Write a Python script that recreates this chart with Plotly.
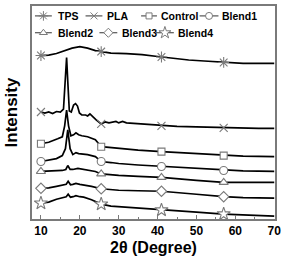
import numpy as np
import plotly.graph_objects as go

# ---------------- data (2θ in degrees, intensity in arbitrary units, stacked) ----------------
series_names = ["TPS", "PLA", "Control", "Blend1", "Blend2", "Blend3", "Blend4"]

tps_x = [10, 12, 14, 16, 18, 20, 22, 24, 25.5, 28, 32, 36, 40, 44, 48, 52, 57, 62, 66, 70]
tps_y = [166, 166.5, 168, 170.5, 173.5, 175, 173.5, 171, 170, 168.5, 168, 167, 165, 163, 161.5, 160.5, 159, 158, 158, 158]

pla_x = [10, 11, 12, 13, 14, 15, 15.8, 16.3, 16.6, 16.9, 17.3, 17.8, 18.4, 18.9, 19.4, 19.9, 20.5, 21.5, 22.0,
         22.6, 23.3, 24.2, 25.5, 26.5, 27.5, 28.4, 29.3, 30.0, 31.0, 32.0, 34, 36, 38, 41, 45, 50, 55, 57, 62, 66, 70]
pla_y = [109, 108, 109, 107.5, 109.5, 109, 112, 140, 164, 140, 110, 109, 116, 117.5, 115, 108, 106, 106, 105,
         107, 104, 101, 97, 99, 98, 98.5, 99.5, 98, 99.5, 98, 97.5, 97, 96.5, 95, 94.5, 94, 93.5, 93, 93, 92.5, 92.5]

ctrl_x = [10, 12, 14.3, 15.5, 16.1, 16.6, 17.1, 17.7, 18.4, 19.0, 19.7, 20.5, 22, 24, 25.5, 28, 30, 35, 41, 50, 57, 62, 70]
ctrl_y = [77, 78.5, 82, 84, 95, 111, 95, 85, 86, 88, 86, 85, 84, 81, 74, 73, 72, 70.5, 69, 67, 65, 64.5, 64]

b1_x = [10, 12, 14, 15.5, 16.3, 16.9, 17.5, 18.2, 19.0, 19.7, 21, 22, 24, 25.5, 28, 30, 35, 41, 50, 57, 62, 70]
b1_y = [59, 60.5, 62, 65, 72, 91, 72, 66, 68, 67, 66.5, 66, 64, 59, 58, 57, 55.5, 54, 52, 50, 49.5, 49]

b2_x = [10, 12, 14, 15.5, 16.4, 16.9, 17.5, 18.2, 19.5, 21, 22, 24, 25.5, 28, 30, 35, 41, 50, 57, 62, 70]
b2_y = [49, 49.5, 49.5, 50, 51, 55, 51, 51, 52, 51, 50.5, 49, 46.5, 45.5, 45, 44, 43, 40, 38, 38, 38]

b3_x = [10, 12, 14, 15.5, 16.5, 17.0, 17.6, 18.2, 19.0, 20, 21, 23, 25.5, 28, 30, 35, 41, 50, 57, 62, 70]
b3_y = [32, 32.5, 34, 35, 36, 39, 35.5, 36, 37, 36, 35.5, 34, 31.5, 30.5, 30, 29.5, 29, 26, 23.5, 22.5, 22]

b4_x = [10, 12, 14, 15.5, 16.5, 17.0, 17.6, 18.3, 19.0, 20, 21, 23, 25.5, 28, 32, 36, 41, 45, 50, 57, 62, 70]
b4_y = [17, 18, 21, 22.5, 23.5, 26, 23, 23.5, 24.5, 23.5, 23, 20.5, 16, 14, 13, 12, 10, 9, 8, 6, 5, 4]

series_x = [tps_x, pla_x, ctrl_x, b1_x, b2_x, b3_x, b4_x]
series_y = [tps_y, pla_y, ctrl_y, b1_y, b2_y, b3_y, b4_y]

marker_x = [10, 25.5, 41, 57]          # 2θ positions where symbols are drawn
x_ticks = [10, 20, 30, 40, 50, 60, 70]

# ---------------- styles ----------------
gray = "#7a7a7a"
symbols = ["asterisk-open", "x-thin-open", "square", "circle", "triangle-up", "diamond", "star"]
sym_size = [9, 8, 7, 8, 8, 8, 10]
sym_fill = [gray, gray, "white", "white", "white", "white", "white"]
font = "Liberation Sans, Arial, sans-serif"

fig = go.Figure()
for name, xs, ys, sym, ss, fc in zip(series_names, series_x, series_y, symbols, sym_size, sym_fill):
    fig.add_trace(go.Scatter(x=xs, y=ys, mode="lines", line=dict(color="black", width=1.7),
                             showlegend=False, hoverinfo="skip"))
    my = np.interp(marker_x, xs, ys)
    fig.add_trace(go.Scatter(x=marker_x, y=my, mode="markers", showlegend=False,
                             marker=dict(symbol=sym, size=ss, color=fc,
                                         line=dict(color=gray, width=1.1))))

# ---------------- hand-drawn legend on an overlay pixel axis ----------------
legend_rows = [14, 31]
legend_items = [  # (row, glyph start, glyph end, text start)
    (0, 35, 52, 56), (0, 86, 103, 106), (0, 142, 158, 160), (0, 201, 220, 222),
    (1, 35, 52, 56), (1, 100, 118, 121), (1, 157, 175, 177),
]
for (row, g0, g1, tx), name, sym, ss, fc in zip(legend_items, series_names, symbols, sym_size, sym_fill):
    yy = legend_rows[row]
    fig.add_trace(go.Scatter(x=[g0, g1], y=[yy, yy], xaxis="x2", yaxis="y2", mode="lines",
                             line=dict(color="#333", width=1), showlegend=False, hoverinfo="skip"))
    fig.add_trace(go.Scatter(x=[(g0 + g1) / 2], y=[yy], xaxis="x2", yaxis="y2", mode="markers",
                             marker=dict(symbol=sym, size=ss - 1, color=fc,
                                         line=dict(color=gray, width=1)),
                             showlegend=False, hoverinfo="skip"))
    fig.add_annotation(x=tx, y=yy, xref="x2", yref="y2", text=name, showarrow=False,
                       xanchor="left", yanchor="middle",
                       font=dict(family=font, size=10.5, color="black", weight="bold"))

fig.update_layout(
    width=285, height=265,
    margin=dict(l=32, r=8, t=4, b=46),
    paper_bgcolor="white", plot_bgcolor="white",
    showlegend=False,
    xaxis=dict(range=[7.7, 70.2], tickvals=x_ticks, ticks="inside", ticklen=4, tickwidth=1.2,
               tickcolor=gray, showline=True, linecolor=gray, linewidth=1.6, mirror=True,
               showgrid=False, zeroline=False,
               minor=dict(dtick=5, tick0=5, ticks="inside", ticklen=2.5, tickcolor=gray, tickwidth=1),
               tickfont=dict(family=font, size=12, color="black", weight="bold"),
               title=dict(text="2θ (Degree)", standoff=5,
                          font=dict(family=font, size=16, color="black", weight="bold"))),
    yaxis=dict(range=[1, 216], showticklabels=False, ticks="", showline=True, linecolor=gray,
               linewidth=1.6, mirror=True, showgrid=False, zeroline=False,
               title=dict(text="Intensity", standoff=8,
                          font=dict(family=font, size=17, color="black", weight="bold"))),
    xaxis2=dict(overlaying="x", range=[32, 277], visible=False),
    yaxis2=dict(overlaying="y", range=[219, 4], visible=False),
)

fig.write_html("out.html")
